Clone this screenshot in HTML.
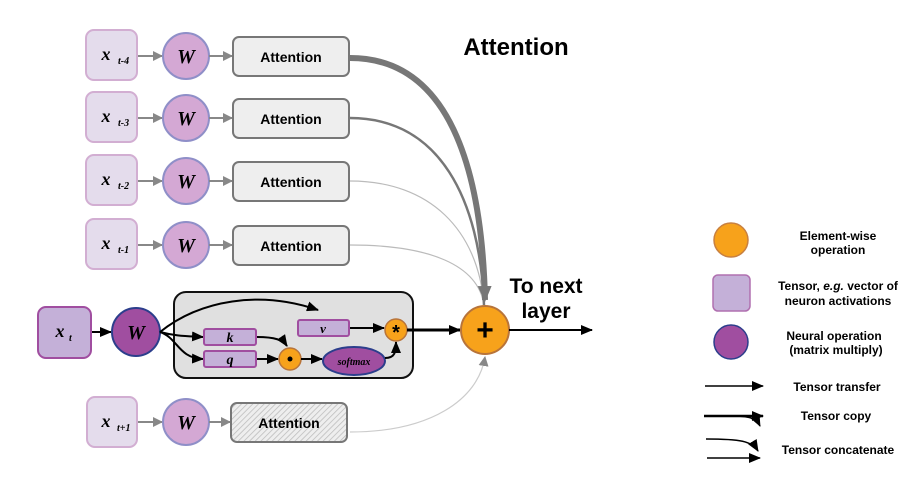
<!DOCTYPE html>
<html><head><meta charset="utf-8"><style>
html,body{margin:0;padding:0;background:#fff;}
svg{display:block;}
text{font-family:"Liberation Sans",sans-serif;}
.it{font-family:"Liberation Serif",serif;font-style:italic;font-weight:bold;}
</style></head><body>
<svg width="916" height="491" viewBox="0 0 916 491" xmlns="http://www.w3.org/2000/svg">
<defs>
<marker id="ag" markerWidth="10" markerHeight="10" refX="9" refY="5" orient="auto" markerUnits="userSpaceOnUse"><path d="M0,0 L10,5 L0,10 z" fill="#888"/></marker>
<marker id="ak" markerWidth="12" markerHeight="10" refX="11" refY="5" orient="auto" markerUnits="userSpaceOnUse"><path d="M0,0 L12,5 L0,10 z" fill="#000"/></marker>
<marker id="agb" markerWidth="16" markerHeight="14" refX="14" refY="7" orient="auto" markerUnits="userSpaceOnUse"><path d="M0,0 L16,7 L0,14 z" fill="#777"/></marker>
<pattern id="hatch" width="4" height="4" patternUnits="userSpaceOnUse" patternTransform="rotate(45)"><rect width="4" height="4" fill="#eee"/><line x1="0" y1="0" x2="0" y2="4" stroke="#bbb" stroke-width="1.5"/></pattern>
</defs>

<!-- curves to plus -->
<path d="M350,432 C430,432 478,400 485,357" fill="none" stroke="#ccc" stroke-width="1.2" marker-end="url(#ag)"/>
<path d="M350,245 C430,245 478,265 484,305" fill="none" stroke="#bbb" stroke-width="1.2"/>
<path d="M350,181 C430,181 478,230 484,305" fill="none" stroke="#bbb" stroke-width="1.2"/>
<path d="M350,118 C440,118 480,200 484,305" fill="none" stroke="#777" stroke-width="2.5"/>
<path d="M350,58 C450,58 482,170 485,300" fill="none" stroke="#777" stroke-width="6" marker-end="url(#agb)"/>

<!-- previous rows -->
<g id="rows">
<g>
<rect x="86" y="30" width="51" height="50" rx="8" fill="#e4dcec" stroke="#d2aed2" stroke-width="2"/>
<text x="106" y="60" class="it" font-size="18" text-anchor="middle">x</text><text x="118" y="64" class="it" font-size="10">t-4</text>
<line x1="138" y1="56" x2="162" y2="56" stroke="#888" stroke-width="2" marker-end="url(#ag)"/>
<circle cx="186" cy="56" r="23" fill="#d4a8d4" stroke="#8f8fc8" stroke-width="2"/>
<text x="186" y="63" class="it" font-size="20" text-anchor="middle">W</text>
<line x1="209" y1="56" x2="232" y2="56" stroke="#888" stroke-width="2" marker-end="url(#ag)"/>
<rect x="233" y="37" width="116" height="39" rx="6" fill="#eee" stroke="#777" stroke-width="2"/>
<text x="291" y="62" font-size="14" font-weight="bold" text-anchor="middle">Attention</text>
</g>
<g>
<rect x="86" y="92" width="51" height="50" rx="8" fill="#e4dcec" stroke="#d2aed2" stroke-width="2"/>
<text x="106" y="122" class="it" font-size="18" text-anchor="middle">x</text><text x="118" y="126" class="it" font-size="10">t-3</text>
<line x1="138" y1="118" x2="162" y2="118" stroke="#888" stroke-width="2" marker-end="url(#ag)"/>
<circle cx="186" cy="118" r="23" fill="#d4a8d4" stroke="#8f8fc8" stroke-width="2"/>
<text x="186" y="125" class="it" font-size="20" text-anchor="middle">W</text>
<line x1="209" y1="118" x2="232" y2="118" stroke="#888" stroke-width="2" marker-end="url(#ag)"/>
<rect x="233" y="99" width="116" height="39" rx="6" fill="#eee" stroke="#777" stroke-width="2"/>
<text x="291" y="124" font-size="14" font-weight="bold" text-anchor="middle">Attention</text>
</g>
<g>
<rect x="86" y="155" width="51" height="50" rx="8" fill="#e4dcec" stroke="#d2aed2" stroke-width="2"/>
<text x="106" y="185" class="it" font-size="18" text-anchor="middle">x</text><text x="118" y="189" class="it" font-size="10">t-2</text>
<line x1="138" y1="181" x2="162" y2="181" stroke="#888" stroke-width="2" marker-end="url(#ag)"/>
<circle cx="186" cy="181" r="23" fill="#d4a8d4" stroke="#8f8fc8" stroke-width="2"/>
<text x="186" y="188" class="it" font-size="20" text-anchor="middle">W</text>
<line x1="209" y1="181" x2="232" y2="181" stroke="#888" stroke-width="2" marker-end="url(#ag)"/>
<rect x="233" y="162" width="116" height="39" rx="6" fill="#eee" stroke="#777" stroke-width="2"/>
<text x="291" y="187" font-size="14" font-weight="bold" text-anchor="middle">Attention</text>
</g>
<g>
<rect x="86" y="219" width="51" height="50" rx="8" fill="#e4dcec" stroke="#d2aed2" stroke-width="2"/>
<text x="106" y="249" class="it" font-size="18" text-anchor="middle">x</text><text x="118" y="253" class="it" font-size="10">t-1</text>
<line x1="138" y1="245" x2="162" y2="245" stroke="#888" stroke-width="2" marker-end="url(#ag)"/>
<circle cx="186" cy="245" r="23" fill="#d4a8d4" stroke="#8f8fc8" stroke-width="2"/>
<text x="186" y="252" class="it" font-size="20" text-anchor="middle">W</text>
<line x1="209" y1="245" x2="232" y2="245" stroke="#888" stroke-width="2" marker-end="url(#ag)"/>
<rect x="233" y="226" width="116" height="39" rx="6" fill="#eee" stroke="#777" stroke-width="2"/>
<text x="291" y="251" font-size="14" font-weight="bold" text-anchor="middle">Attention</text>
</g>
<g>
<rect x="87" y="397" width="50" height="50" rx="8" fill="#e4dcec" stroke="#d2aed2" stroke-width="2"/>
<text x="106" y="427" class="it" font-size="18" text-anchor="middle">x</text><text x="117" y="431" class="it" font-size="10">t+1</text>
<line x1="138" y1="422" x2="162" y2="422" stroke="#888" stroke-width="2" marker-end="url(#ag)"/>
<circle cx="186" cy="422" r="23" fill="#d4a8d4" stroke="#8f8fc8" stroke-width="2"/>
<text x="186" y="429" class="it" font-size="20" text-anchor="middle">W</text>
<line x1="209" y1="422" x2="230" y2="422" stroke="#888" stroke-width="2" marker-end="url(#ag)"/>
<rect x="231" y="403" width="116" height="39" rx="6" fill="url(#hatch)" stroke="#777" stroke-width="2"/>
<text x="289" y="428" font-size="14" font-weight="bold" text-anchor="middle">Attention</text>
</g>
</g>

<!-- current row -->
<rect x="38" y="307" width="53" height="51" rx="8" fill="#c4b0d8" stroke="#a04ea0" stroke-width="2"/>
<text x="60" y="337" class="it" font-size="18" text-anchor="middle">x</text><text x="69" y="341" class="it" font-size="10">t</text>
<line x1="92" y1="332" x2="111" y2="332" stroke="#000" stroke-width="2" marker-end="url(#ak)"/>
<circle cx="136" cy="332" r="24" fill="#a04ea0" stroke="#2c3e8c" stroke-width="2"/>
<text x="136" y="339" class="it" font-size="20" text-anchor="middle">W</text>

<rect x="174" y="292" width="239" height="86" rx="12" fill="#e0e0e0" stroke="#111" stroke-width="2"/>
<path d="M160,332 C200,300 260,290 318,310" fill="none" stroke="#000" stroke-width="2" marker-end="url(#ak)"/>
<path d="M160,332 C175,336 185,336 203,337" fill="none" stroke="#000" stroke-width="2" marker-end="url(#ak)"/>
<path d="M160,332 C178,338 178,358 203,359" fill="none" stroke="#000" stroke-width="2" marker-end="url(#ak)"/>
<rect x="204" y="329" width="52" height="16" rx="2" fill="#c4b0d8" stroke="#a04ea0" stroke-width="2"/>
<text x="230" y="342" class="it" font-size="14" text-anchor="middle">k</text>
<rect x="204" y="351" width="52" height="16" rx="2" fill="#c4b0d8" stroke="#a04ea0" stroke-width="2"/>
<text x="230" y="364" class="it" font-size="14" text-anchor="middle">q</text>
<rect x="298" y="320" width="51" height="16" rx="2" fill="#c4b0d8" stroke="#a04ea0" stroke-width="2"/>
<text x="323" y="333" class="it" font-size="13" text-anchor="middle">v</text>
<path d="M257,337 C275,337 283,340 287,346" fill="none" stroke="#000" stroke-width="2" marker-end="url(#ak)"/>
<line x1="257" y1="359" x2="278" y2="359" stroke="#000" stroke-width="2" marker-end="url(#ak)"/>
<circle cx="290" cy="359" r="11" fill="#f7a21b" stroke="#b8743a" stroke-width="1.5"/>
<circle cx="290" cy="359" r="2.5" fill="#000"/>
<line x1="301" y1="359" x2="322" y2="359" stroke="#000" stroke-width="2" marker-end="url(#ak)"/>
<ellipse cx="354" cy="361" rx="31" ry="14" fill="#a04ea0" stroke="#2c3e8c" stroke-width="2"/>
<text x="354" y="365" class="it" font-size="10" text-anchor="middle">softmax</text>
<path d="M385,358 C395,358 396,352 396,342" fill="none" stroke="#000" stroke-width="2" marker-end="url(#ak)"/>
<line x1="350" y1="328" x2="384" y2="328" stroke="#000" stroke-width="2" marker-end="url(#ak)"/>
<circle cx="396" cy="330" r="11" fill="#f7a21b" stroke="#b8743a" stroke-width="1.5"/>
<text x="396" y="339" font-size="20" font-weight="bold" text-anchor="middle">*</text>
<path d="M407,330 L460,330" fill="none" stroke="#000" stroke-width="3" marker-end="url(#ak)"/>

<circle cx="485" cy="330" r="24" fill="#f7a21b" stroke="#b8743a" stroke-width="2"/>
<text x="485" y="340" font-size="30" font-weight="bold" text-anchor="middle">+</text>
<line x1="509" y1="330" x2="592" y2="330" stroke="#000" stroke-width="2" marker-end="url(#ak)"/>

<text x="516" y="55" font-size="24" font-weight="bold" text-anchor="middle">Attention</text>
<text x="546" y="293" font-size="21" font-weight="bold" text-anchor="middle">To next</text>
<text x="546" y="318" font-size="21" font-weight="bold" text-anchor="middle">layer</text>

<!-- legend -->
<circle cx="731" cy="240" r="17" fill="#f7a21b" stroke="#c88040" stroke-width="1.5"/>
<text x="838" y="240" font-size="12" font-weight="bold" text-anchor="middle">Element-wise</text>
<text x="838" y="254" font-size="12" font-weight="bold" text-anchor="middle">operation</text>
<rect x="713" y="275" width="37" height="36" rx="5" fill="#c4b0d8" stroke="#b070b0" stroke-width="1.5"/>
<text x="838" y="290" font-size="12" font-weight="bold" text-anchor="middle">Tensor, <tspan font-style="italic">e.g.</tspan> vector of</text>
<text x="838" y="305" font-size="12" font-weight="bold" text-anchor="middle">neuron activations</text>
<circle cx="731" cy="342" r="17" fill="#a04ea0" stroke="#2c3e8c" stroke-width="1.5"/>
<text x="834" y="340" font-size="12" font-weight="bold" text-anchor="middle">Neural operation</text>
<text x="836" y="354" font-size="12" font-weight="bold" text-anchor="middle">(matrix multiply)</text>
<line x1="705" y1="386" x2="763" y2="386" stroke="#000" stroke-width="1.5" marker-end="url(#ak)"/>
<text x="837" y="391" font-size="12" font-weight="bold" text-anchor="middle">Tensor transfer</text>
<line x1="704" y1="416" x2="763" y2="416" stroke="#000" stroke-width="2.5" marker-end="url(#ak)"/>
<path d="M730,416 C750,416 756,418 760,426" fill="none" stroke="#000" stroke-width="1.5" marker-end="url(#ak)"/>
<text x="836" y="420" font-size="12" font-weight="bold" text-anchor="middle">Tensor copy</text>
<path d="M706,439 C740,439 752,441 758,451" fill="none" stroke="#000" stroke-width="1.5" marker-end="url(#ak)"/>
<line x1="707" y1="458" x2="760" y2="458" stroke="#000" stroke-width="1.5" marker-end="url(#ak)"/>
<text x="838" y="454" font-size="12" font-weight="bold" text-anchor="middle">Tensor concatenate</text>
</svg>
</body></html>
